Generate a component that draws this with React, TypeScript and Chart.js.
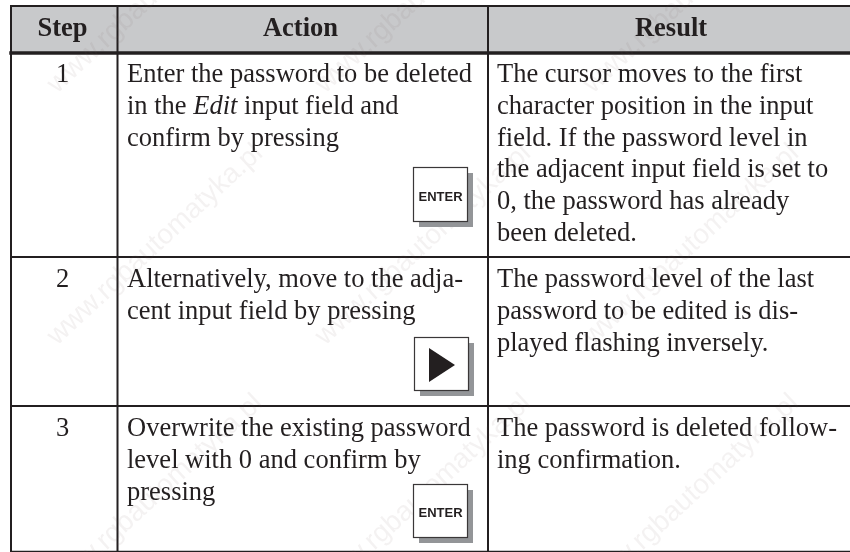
import React, { useEffect, useRef } from "react";
import { Chart, registerables } from "chart.js";

Chart.register(...registerables);

const headers = ["Step", "Action", "Result"];
const steps = ["1", "2", "3"];
const actionLines = [
  ["Enter the password to be deleted", "in the |Edit| input field and", "confirm by pressing"],
  ["Alternatively, move to the adja-", "cent input field by pressing"],
  ["Overwrite the existing password", "level with 0 and confirm by", "pressing"],
];
const resultLines = [
  ["The cursor moves to the first", "character position in the input", "field. If the password level in", "the adjacent input field is set to", "0, the password has already", "been deleted."],
  ["The password level of the last", "password to be edited is dis-", "played flashing inversely."],
  ["The password is deleted follow-", "ing confirmation."],
];
const keyLabels = ["ENTER", "\u25B6", "ENTER"];
const watermark = "www.rgbautomatyka.pl";

const W = 850;
const H = 552;
const colEdges = [11, 117.5, 488, 851];
const rowEdges = [6, 53, 257, 406, 551.5];
const headerCenters = [62.5, 300.5, 671];
const rowBase = [82, 287, 436];
const lineGap = 31.8;
const keyBoxes = [
  [413, 167, 467, 221],
  [414, 337, 468, 390],
  [413, 484, 467, 537],
];
const wmX = [-211, 57, 325, 593];
const wmY = [94, 346, 596];

const ink = "#231f20";
const serif = "'Liberation Serif'";

const tablePlugin = {
  id: "tableText",
  afterDatasetsDraw(chart: any) {
    const { ctx, scales } = chart;
    const px = (v: number) => scales.x.getPixelForValue(v);
    const py = (v: number) => scales.y.getPixelForValue(v);
    ctx.save();
    ctx.textBaseline = "alphabetic";
    // watermark
    ctx.font = "28px 'Liberation Sans'";
    ctx.fillStyle = "rgba(120,90,85,0.08)";
    ctx.textAlign = "left";
    for (const x of wmX) {
      for (const y of wmY) {
        ctx.save();
        ctx.translate(px(x), py(y));
        ctx.rotate((-Math.PI / 180) * 42.7);
        ctx.fillText(watermark, 0, 0);
        ctx.restore();
      }
    }
    ctx.fillStyle = ink;
    // headers
    ctx.font = `bold 26.5px ${serif}`;
    ctx.textAlign = "center";
    headers.forEach((h, i) => ctx.fillText(h, px(headerCenters[i]), py(36)));
    const bodyFont = `26.5px ${serif}`;
    const italic = `italic 26.5px ${serif}`;
    ctx.font = bodyFont;
    steps.forEach((s, i) => ctx.fillText(s, px(62.5), py(rowBase[i])));
    ctx.textAlign = "left";
    const drawLines = (lines: string[], x: number, base: number) => {
      lines.forEach((line, li) => {
        let cx = px(x);
        line.split("|").forEach((part, pi) => {
          ctx.font = pi % 2 ? italic : bodyFont;
          ctx.fillText(part, cx, py(base + li * lineGap));
          cx += ctx.measureText(part).width;
        });
      });
    };
    actionLines.forEach((l, i) => drawLines(l, 127, rowBase[i]));
    resultLines.forEach((l, i) => drawLines(l, 497, rowBase[i]));
    // keys
    keyBoxes.forEach(([x0, y0, x1, y1], i) => {
      const X0 = px(x0), Y0 = py(y0), X1 = px(x1), Y1 = py(y1);
      ctx.fillStyle = "#939598";
      ctx.fillRect(X0 + 6, Y0 + 6, X1 - X0, Y1 - Y0);
      ctx.fillStyle = "#ffffff";
      ctx.fillRect(X0, Y0, X1 - X0, Y1 - Y0);
      ctx.strokeStyle = "#3a3738";
      ctx.lineWidth = 1.2;
      ctx.strokeRect(X0 + 0.5, Y0 + 0.5, X1 - X0, Y1 - Y0);
      ctx.fillStyle = ink;
      if (keyLabels[i] === "ENTER") {
        ctx.font = "bold 13px 'Liberation Sans'";
        ctx.textAlign = "center";
        ctx.fillText("ENTER", (X0 + X1) / 2 + 0.5, (Y0 + Y1) / 2 + 6.5);
      } else {
        ctx.beginPath();
        ctx.moveTo(X0 + 15, Y0 + 11);
        ctx.lineTo(X0 + 41, Y0 + 28);
        ctx.lineTo(X0 + 15, Y0 + 45);
        ctx.closePath();
        ctx.fill();
      }
    });
    ctx.restore();
  },
};

function seg(x0: number, y0: number, x1: number, y1: number, width: number) {
  return {
    type: "line" as const,
    data: [{ x: x0, y: y0 }, { x: x1, y: y1 }],
    borderColor: ink,
    borderWidth: width,
    pointRadius: 0,
    borderCapStyle: "square" as const,
    order: 1,
  };
}

export default function App() {
  const ref = useRef<HTMLCanvasElement>(null);
  useEffect(() => {
    const top = rowEdges[0];
    const bottom = rowEdges[rowEdges.length - 1];
    const left = colEdges[0];
    const right = colEdges[colEdges.length - 1];
    const chart = new Chart(ref.current!, {
      type: "line",
      data: {
        datasets: [
          {
            type: "line",
            data: [{ x: left, y: top }, { x: right, y: top }],
            backgroundColor: "#c8c9cb",
            borderWidth: 0,
            pointRadius: 0,
            fill: { value: rowEdges[1] },
            order: 3,
          } as any,
          seg(left, top, right, top, 2),
          seg(left, rowEdges[1], right, rowEdges[1], 3.5),
          seg(left, rowEdges[2], right, rowEdges[2], 2),
          seg(left, rowEdges[3], right, rowEdges[3], 2),
          seg(left, bottom, right, bottom, 1.5),
          seg(left, top, left, bottom, 2),
          seg(colEdges[1], top, colEdges[1], bottom, 2),
          seg(colEdges[2], top, colEdges[2], bottom, 2),
        ],
      },
      options: {
        animation: false,
        responsive: false,
        layout: { padding: 0 },
        plugins: { legend: { display: false }, tooltip: { enabled: false } },
        scales: {
          x: { type: "linear", min: 0, max: W, display: false },
          y: { type: "linear", min: 0, max: H, reverse: true, display: false },
        },
      },
      plugins: [tablePlugin],
    });
    return () => chart.destroy();
  }, []);
  return (
    <canvas
      ref={ref}
      width={W}
      height={H}
      style={{ position: "fixed", left: 0, top: 0, width: W, height: H, background: "#fff" }}
    />
  );
}
